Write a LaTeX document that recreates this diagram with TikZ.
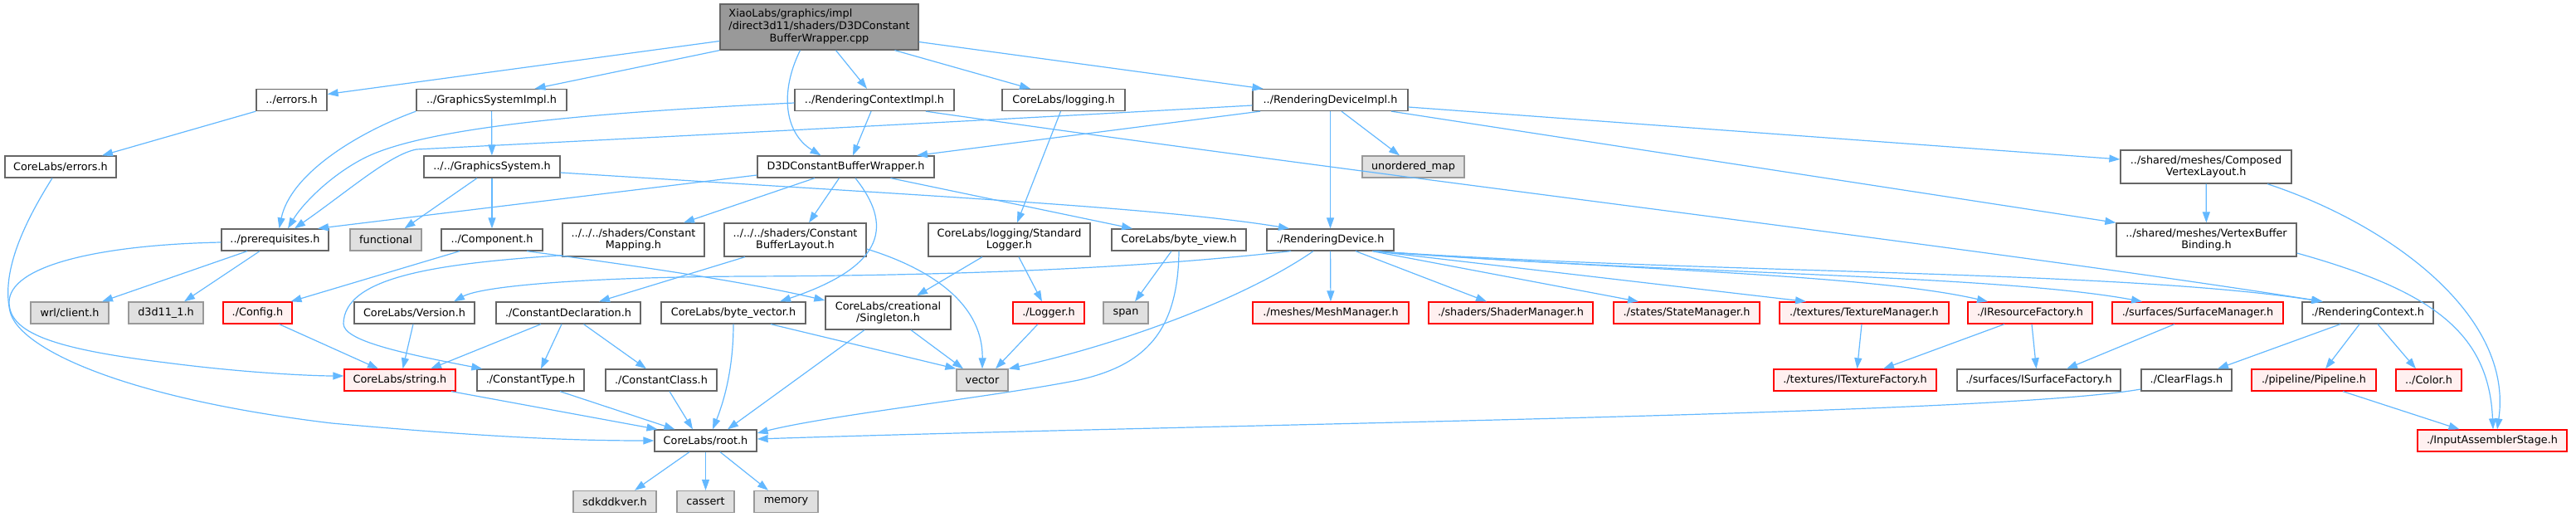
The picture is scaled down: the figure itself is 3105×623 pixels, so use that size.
\documentclass[tikz,border=0pt]{standalone}
\usepackage{fontspec}
\usetikzlibrary{arrows.meta,calc}
\newfontfamily\dvs{DejaVu Sans}
\newcommand\dfont{\dvs\fontsize{12.8}{14.7}\selectfont}
\definecolor{eblue}{HTML}{63B8FF}
\definecolor{cbord}{HTML}{666666}
\definecolor{cgbord}{HTML}{999999}
\definecolor{cgfill}{HTML}{E0E0E0}
\definecolor{crfill}{HTML}{FFF0F0}
\definecolor{crootfill}{HTML}{999999}
\tikzset{
  nd/.style={draw=cbord, fill=white, line width=1.3pt, rectangle, inner sep=0pt, minimum height=26pt, font=\dfont, align=center},
  gr/.style={nd, draw=cgbord, fill=cgfill},
  rd/.style={nd, draw=red, fill=crfill},
  e/.style={draw=eblue, line width=1.2pt, -{Triangle[length=13pt,width=9pt]}}
}
\begin{document}
\begin{tikzpicture}[x=1pt,y=-1pt]
\useasboundingbox (0,0) rectangle (3105,623);
% row 0
\node[nd, fill=crootfill, minimum width=239pt, minimum height=55pt] (root) at (987.5,32.5) {\begin{tabular}{@{}l@{}}XiaoLabs/graphics/impl\\/direct3d11/shaders/D3DConstant\\\multicolumn{1}{@{}c@{}}{BufferWrapper.cpp}\end{tabular}};
% row 1
\node[nd, minimum width=85pt] (errors) at (351.5,120.5) {../errors.h};
\node[nd, minimum width=181pt] (gsimpl) at (592.5,120.5) {../GraphicsSystemImpl.h};
\node[nd, minimum width=192pt] (rcimpl) at (1054,120.5) {../RenderingContextImpl.h};
\node[nd, minimum width=148pt] (logging) at (1282,120.5) {CoreLabs/logging.h};
\node[nd, minimum width=187pt] (rdimpl) at (1603.5,120.5) {../RenderingDeviceImpl.h};
% row 2
\node[nd, minimum width=134pt] (clerrors) at (73,201) {CoreLabs/errors.h};
\node[nd, minimum width=164pt] (gsys) at (593,201) {../../GraphicsSystem.h};
\node[nd, minimum width=213pt] (d3dcbw) at (1019.5,201) {D3DConstantBufferWrapper.h};
\node[gr, minimum width=123pt] (umap) at (1703.5,201) {unordered\_map};
\node[nd, minimum width=206pt, minimum height=40pt] (composed) at (2659,201) {../shared/meshes/Composed\\VertexLayout.h};
% row 3
\node[nd, minimum width=129pt] (prereq) at (331.5,289) {../prerequisites.h};
\node[gr, minimum width=86pt] (functional) at (465,289) {functional};
\node[nd, minimum width=122pt] (component) at (593,289) {../Component.h};
\node[nd, minimum width=171pt, minimum height=40pt] (cmapping) at (763.5,289) {../../../shaders/Constant\\Mapping.h};
\node[nd, minimum width=171pt, minimum height=40pt] (cblayout) at (958.5,289) {../../../shaders/Constant\\BufferLayout.h};
\node[nd, minimum width=195pt, minimum height=40pt] (stdlogger) at (1216.5,289) {CoreLabs/logging/Standard\\Logger.h};
\node[nd, minimum width=162pt] (byteview) at (1421,289) {CoreLabs/byte\_view.h};
\node[nd, minimum width=153pt] (rdev) at (1603.5,289) {./RenderingDevice.h};
\node[nd, minimum width=217pt, minimum height=40pt] (vbbinding) at (2659.5,289) {../shared/meshes/VertexBuffer\\Binding.h};
% row 4
\node[gr, minimum width=94pt] (wrl) at (84,377) {wrl/client.h};
\node[gr, minimum width=90pt] (d3d11) at (200,377) {d3d11\_1.h};
\node[rd, minimum width=83pt] (config) at (310.5,377) {./Config.h};
\node[nd, minimum width=145pt] (version) at (499.5,377) {CoreLabs/Version.h};
\node[nd, minimum width=174pt] (cdecl) at (685,377) {./ConstantDeclaration.h};
\node[nd, minimum width=174pt] (bytevec) at (884,377) {CoreLabs/byte\_vector.h};
\node[nd, minimum width=151pt, minimum height=40pt] (singleton) at (1070.5,377) {CoreLabs/creational\\/Singleton.h};
\node[rd, minimum width=86pt] (logger) at (1264,377) {./Logger.h};
\node[gr, minimum width=54pt] (span) at (1357,377) {span};
\node[rd, minimum width=188pt] (mesh) at (1604,377) {./meshes/MeshManager.h};
\node[rd, minimum width=198pt] (shader) at (1821,377) {./shaders/ShaderManager.h};
\node[rd, minimum width=176pt] (state) at (2033,377) {./states/StateManager.h};
\node[rd, minimum width=204pt] (texmgr) at (2247,377) {./textures/TextureManager.h};
\node[rd, minimum width=150pt] (iresf) at (2447,377) {./IResourceFactory.h};
\node[rd, minimum width=206pt] (surfmgr) at (2649,377) {./surfaces/SurfaceManager.h};
\node[nd, minimum width=158pt] (rctx) at (2854,377) {./RenderingContext.h};
% row 5
\node[rd, minimum width=134pt] (string) at (482,458) {CoreLabs/string.h};
\node[nd, minimum width=129pt] (ctype) at (639.5,458) {./ConstantType.h};
\node[nd, minimum width=134pt] (cclass) at (797,458) {./ConstantClass.h};
\node[gr, minimum width=62pt] (vector) at (1184,458) {vector};
\node[rd, minimum width=196pt] (itexf) at (2236,458) {./textures/ITextureFactory.h};
\node[nd, minimum width=197pt] (isurff) at (2457.5,458) {./surfaces/ISurfaceFactory.h};
\node[nd, minimum width=109pt] (clearflags) at (2635.5,458) {./ClearFlags.h};
\node[rd, minimum width=150pt] (pipeline) at (2789,458) {./pipeline/Pipeline.h};
\node[rd, minimum width=79pt] (color) at (2927.5,458) {../Color.h};
% row 6
\node[nd, minimum width=123pt] (rooth) at (850.5,531) {CoreLabs/root.h};
\node[rd, minimum width=180pt] (iastage) at (3004,531) {./InputAssemblerStage.h};
% row 7
\node[gr, minimum width=100pt] (sdk) at (741,604.5) {sdkddkver.h};
\node[gr, minimum width=69pt] (cassert) at (850.5,604.5) {cassert};
\node[gr, minimum width=77pt] (memory) at (947.5,604.5) {memory};

% edges from root
\draw[e] ([yshift=-17pt]root.west) -- ([yshift=7pt]errors.east);
\draw[e] (root.south west) -- ([xshift=52pt]gsimpl.north);
\draw[e] ([xshift=-23pt]root.south) .. controls (940,110) and (945,160) .. ([xshift=-30pt]d3dcbw.north);
\draw[e] ([xshift=20pt]root.south) -- ([xshift=-9pt]rcimpl.north);
\draw[e] ([xshift=91pt]root.south) -- ([xshift=-40pt]logging.north);
\draw[e] ([yshift=-18pt]root.east) -- ([xshift=-81pt]rdimpl.north);
% errors
\draw[e] (errors.south west) -- ([xshift=50pt]clerrors.north);
\draw[e] ([xshift=-10pt]clerrors.south) .. controls (25,275) and (2,330) .. (12,375) .. controls (22,420) and (150,480) .. (400,510) .. controls (600,528) and (700,531) .. (rooth.west);
% prerequisites
\draw[e] ([yshift=-3pt]prereq.west) .. controls (120,295) and (10,320) .. (11,365) .. controls (12,400) and (60,420) .. (200,437) .. controls (300,450) and (380,453) .. ([yshift=5pt]string.west);
\draw[e] ([xshift=-33.5pt]prereq.south) -- ([xshift=39pt]wrl.north);
\draw[e] ([xshift=-18.5pt]prereq.south) -- ([xshift=22pt]d3d11.north);
% GraphicsSystemImpl
\draw[e] (gsimpl.south west) .. controls (430,160) and (350,210) .. ([xshift=5pt]prereq.north);
\draw[e] (gsimpl) -- (gsys);
% RenderingContextImpl
\draw[e] ([yshift=-3.5pt]rcimpl.west) .. controls (750,134) and (520,150) .. (440,190) .. controls (400,210) and (365,245) .. ([xshift=15.5pt]prereq.north);
\draw[e] ([xshift=-4pt]rcimpl.south) -- ([xshift=8.5pt]d3dcbw.north);
\draw[e] ([xshift=62pt]rcimpl.south) .. controls (1700,218) and (2400,300) .. ([xshift=-54pt]rctx.north);
% logging
\draw[e] ([xshift=-3.5pt]logging.south) -- ([xshift=9.5pt]stdlogger.north);
% RenderingDeviceImpl
\draw[e] ([yshift=-6.5pt]rdimpl.west) .. controls (1100,150) and (600,175) .. (502,180) .. controls (470,186) and (420,230) .. ([xshift=23.5pt]prereq.north);
\draw[e] ([xshift=-84.5pt]rdimpl.south) -- ([xshift=85.5pt]d3dcbw.north);
\draw[e] ([xshift=13.5pt]rdimpl.south) -- ([xshift=-16.5pt]umap.north);
\draw[e] (rdimpl) -- (rdev);
\draw[e] ([yshift=-8.5pt]rdimpl.east) -- ([yshift=9pt]composed.west);
\draw[e] ([xshift=73.5pt]rdimpl.south) -- (vbbinding.north west);
% GraphicsSystem
\draw[e] ([xshift=-18pt]gsys.south) -- ([xshift=22.5pt]functional.north);
\draw[e] (gsys) -- (component);
\draw[e] ([yshift=-7pt]gsys.east) .. controls (1100,235) and (1400,250) .. ([xshift=-49.5pt]rdev.north);
% D3DConstantBufferWrapper
\draw[e] ([yshift=-10pt]d3dcbw.west) -- ([xshift=51.5pt]prereq.north);
\draw[e] ([xshift=-37.5pt]d3dcbw.south) -- ([xshift=60.5pt]cmapping.north);
\draw[e] ([xshift=-8pt]d3dcbw.south) -- ([xshift=16.5pt]cblayout.north);
\draw[e] ([xshift=11.5pt]d3dcbw.south) .. controls (1075,270) and (1070,320) .. ([xshift=56pt]bytevec.north);
\draw[e] ([xshift=54pt]d3dcbw.south) -- ([xshift=-56pt]byteview.north);
% Component
\draw[e] ([xshift=-39pt]component.south) -- ([xshift=40pt]config.north);
\draw[e] ([xshift=42pt]component.south) .. controls (780,322) and (900,340) .. ([yshift=15pt]singleton.west);
% ConstantMapping
\draw[e] ([yshift=2pt]cmapping.south west) .. controls (520,318) and (415,335) .. (414,390) .. controls (414,410) and (480,425) .. ([xshift=7pt]ctype.north west);
% ConstantBufferLayout
\draw[e] ([xshift=-60.5pt]cblayout.south) -- ([xshift=37pt]cdecl.north);
\draw[e] ([yshift=-11pt]cblayout.east) .. controls (1110,320) and (1185,360) .. (vector.north);
% StandardLogger
\draw[e] ([xshift=-32.5pt]stdlogger.south) -- ([xshift=34.5pt]singleton.north);
\draw[e] ([xshift=11.5pt]stdlogger.south) -- ([xshift=-8pt]logger.north);
% byte_view
\draw[e] ([xshift=-9pt]byteview.south) -- ([xshift=11pt]span.north);
\draw[e] (byteview.south) .. controls (1420,400) and (1380,440) .. (1300,458) .. controls (1200,478) and (1000,500) .. ([yshift=9pt]rooth.east);
% RenderingDevice
\draw[e] ([xshift=-47.5pt]rdev.south) .. controls (1400,320) and (1200,332) .. (900,333) .. controls (700,334) and (580,345) .. ([xshift=47.5pt]version.north);
\draw[e] ([xshift=-20.5pt]rdev.south) .. controls (1500,360) and (1350,415) .. (vector.north east);
\draw[e] (rdev) -- (mesh);
\draw[e] ([xshift=30.5pt]rdev.south) -- ([xshift=-29pt]shader.north);
\draw[e] ([xshift=50.5pt]rdev.south) -- ([xshift=-58pt]state.north);
\draw[e] ([xshift=52.5pt]rdev.south) -- ([xshift=-70pt]texmgr.north);
\draw[e] ([xshift=52.5pt]rdev.south) .. controls (1950,325) and (2250,330) .. ([xshift=-51pt]iresf.north);
\draw[e] ([xshift=52.5pt]rdev.south) .. controls (2000,330) and (2400,330) .. ([xshift=-67pt]surfmgr.north);
\draw[e] ([xshift=52.5pt]rdev.south) .. controls (2050,330) and (2550,325) .. ([xshift=-55pt]rctx.north);
% managers / factories
\draw[e] ([xshift=-3pt]texmgr.south) -- ([xshift=2.5pt]itexf.north);
\draw[e] ([xshift=-31pt]iresf.south) -- ([xshift=34pt]itexf.north);
\draw[e] ([xshift=2pt]iresf.south) -- ([xshift=-3pt]isurff.north);
\draw[e] ([xshift=-28pt]surfmgr.south) -- ([xshift=33.5pt]isurff.north);
% RenderingContext
\draw[e] ([xshift=-33pt]rctx.south) -- ([xshift=37.5pt]clearflags.north);
\draw[e] ([xshift=-10pt]rctx.south) -- ([xshift=14pt]pipeline.north);
\draw[e] ([xshift=12pt]rctx.south) -- ([xshift=-15.5pt]color.north);
\draw[e] ([yshift=-11pt]clearflags.west) .. controls (2400,500) and (1500,510) .. ([yshift=2pt]rooth.east);
\draw[e] ([xshift=35pt]pipeline.south) -- ([xshift=-39.5pt]iastage.north);
% vertex layout
\draw[e] (composed) -- (vbbinding);
\draw[e] ([xshift=74pt]composed.south) .. controls (2880,270) and (3030,380) .. ([xshift=6pt]iastage.north);
\draw[e] ([yshift=-16pt]vbbinding.east) .. controls (2930,350) and (3000,400) .. ([xshift=1pt]iastage.north);
% lower rows
\draw[e] ([xshift=-1.5pt]version.south) -- ([xshift=3.5pt]string.north);
\draw[e] ([xshift=26pt]config.south) -- ([xshift=-26pt]string.north);
\draw[e] ([xshift=-33pt]cdecl.south) -- ([xshift=37pt]string.north);
\draw[e] ([xshift=-8pt]cdecl.south) -- ([xshift=12.5pt]ctype.north);
\draw[e] ([xshift=18.5pt]cdecl.south) -- ([xshift=-18pt]cclass.north);
\draw[e] (bytevec.south) .. controls (884,450) and (870,490) .. ([xshift=8.5pt]rooth.north);
\draw[e] ([xshift=45pt]bytevec.south) -- (vector.north west);
\draw[e] ([xshift=-28.5pt]singleton.south) -- ([xshift=26.5pt]rooth.north);
\draw[e] ([xshift=27.5pt]singleton.south) -- ([xshift=-23pt]vector.north);
\draw[e] ([xshift=-13pt]logger.south) -- ([xshift=16pt]vector.north);
\draw[e] ([xshift=62pt]string.south) -- ([xshift=-58pt]rooth.north);
\draw[e] ([xshift=35.5pt]ctype.south) -- ([xshift=-37pt]rooth.north);
\draw[e] ([xshift=10pt]cclass.south) -- ([xshift=-15.5pt]rooth.north);
\draw[e] ([xshift=-19.5pt]rooth.south) -- ([xshift=24pt]sdk.north);
\draw[e] (rooth) -- (cassert);
\draw[e] ([xshift=17.5pt]rooth.south) -- ([xshift=-21.5pt]memory.north);
\end{tikzpicture}
\end{document}
